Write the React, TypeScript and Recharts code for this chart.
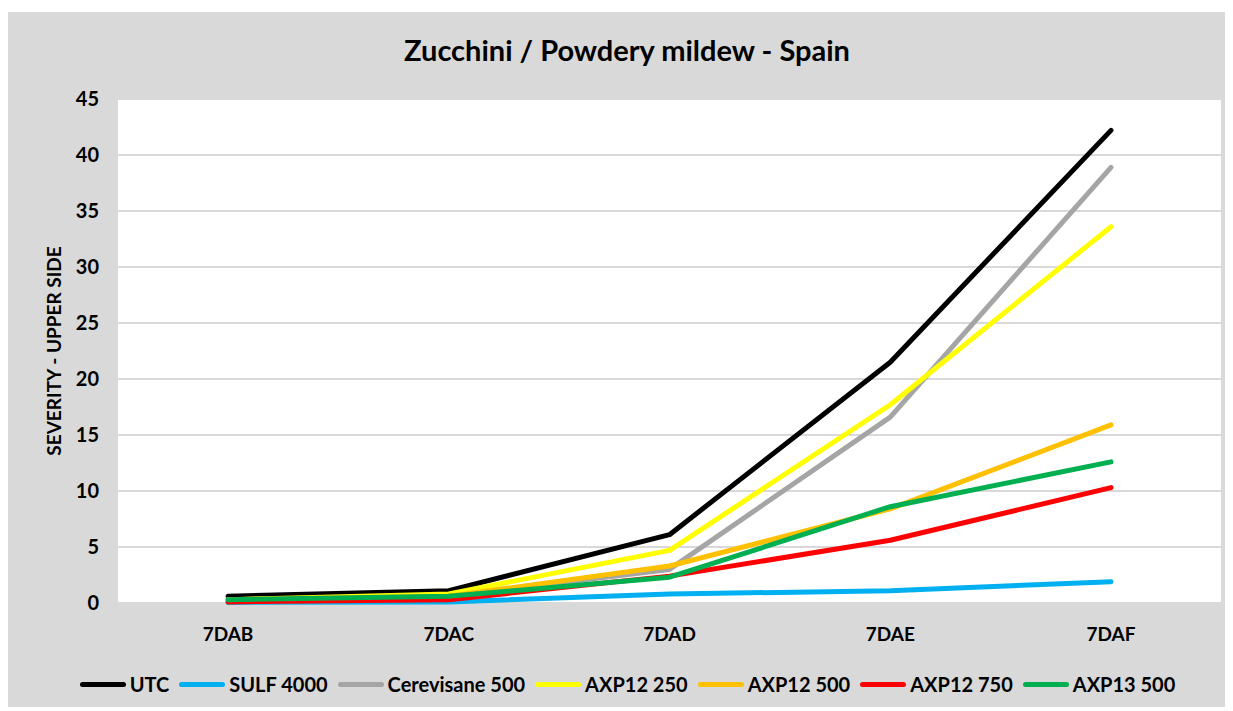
import { LineChart, Line, XAxis, YAxis, CartesianGrid, Legend } from 'recharts'

const days = ['7DAB', '7DAC', '7DAD', '7DAE', '7DAF']
const utc = [0.6, 1.1, 6.1, 21.5, 42.2]
const sulf4000 = [0.05, 0.1, 0.8, 1.1, 1.9]
const cerevisane500 = [0.3, 0.6, 3.0, 16.6, 38.9]
const axp12_250 = [0.3, 0.8, 4.7, 17.7, 33.6]
const axp12_500 = [0.3, 0.6, 3.3, 8.4, 15.9]
const axp12_750 = [0.1, 0.3, 2.4, 5.6, 10.3]
const axp13_500 = [0.3, 0.6, 2.3, 8.6, 12.6]
const yTicks = [0, 5, 10, 15, 20, 25, 30, 35, 40, 45]

const series = [
  { key: 'UTC', values: utc, color: '#000000' },
  { key: 'SULF 4000', values: sulf4000, color: '#00b0f0' },
  { key: 'Cerevisane 500', values: cerevisane500, color: '#a5a5a5' },
  { key: 'AXP12 250', values: axp12_250, color: '#ffff00' },
  { key: 'AXP12 500', values: axp12_500, color: '#ffc000' },
  { key: 'AXP12 750', values: axp12_750, color: '#ff0000' },
  { key: 'AXP13 500', values: axp13_500, color: '#00b050' },
]

const data = days.map((d, i) => {
  const row: Record<string, string | number> = { day: d }
  series.forEach(s => { row[s.key] = s.values[i] })
  return row
})

const font = 'Lato, "Open Sans", sans-serif'

function LegendRow() {
  return (
    <div style={{ display: 'flex', justifyContent: 'center', alignItems: 'center', height: 24, paddingLeft: 36, fontFamily: font, fontWeight: 700, fontSize: 20, color: '#000' }}>
      {series.map(s => (
        <div key={s.key} style={{ display: 'flex', alignItems: 'center', marginRight: 10 }}>
          <div style={{ width: 46, height: 5, borderRadius: 3, background: s.color, marginRight: 4 }} />
          <span>{s.key}</span>
        </div>
      ))}
    </div>
  )
}

export default function App() {
  return (
    <div style={{ position: 'relative', top: 4, width: 1225, height: 699, background: '#d9d9d9' }}>
      <div style={{ position: 'absolute', top: 22, left: 0, width: '100%', paddingLeft: 13, boxSizing: 'border-box', textAlign: 'center', fontFamily: font, fontWeight: 700, fontSize: 29, lineHeight: '32px', color: '#000' }}>
        Zucchini / Powdery mildew - Spain
      </div>
      <LineChart width={1225} height={699} data={data} margin={{ top: 87, right: 12, bottom: 15, left: 0 }}>
        <CartesianGrid vertical={false} stroke="#d9d9d9" strokeWidth={2} fill="#ffffff" fillOpacity={1} />
        <XAxis
          dataKey="day"
          height={69}
          axisLine={false}
          tickLine={false}
          tickMargin={19}
          padding={{ left: 110, right: 110 }}
          tick={{ fill: '#000', fontSize: 19, fontWeight: 700, fontFamily: font }}
        />
        <YAxis
          width={110}
          domain={[0, 45]}
          ticks={yTicks}
          axisLine={false}
          tickLine={false}
          tickMargin={13}
          tick={{ fill: '#000', fontSize: 20, fontWeight: 700, fontFamily: font }}
          label={{ value: 'SEVERITY - UPPER SIDE', angle: -90, position: 'insideLeft', offset: 46, style: { fill: '#000', fontSize: 19, fontWeight: 700, fontFamily: font, textAnchor: 'middle' } }}
        />
        <Legend verticalAlign="bottom" content={() => <LegendRow />} />
        {series.map(s => (
          <Line
            key={s.key}
            type="linear"
            dataKey={s.key}
            stroke={s.color}
            strokeWidth={5}
            strokeLinecap="round"
            strokeLinejoin="round"
            dot={false}
            activeDot={false}
            isAnimationActive={false}
          />
        ))}
      </LineChart>
    </div>
  )
}
